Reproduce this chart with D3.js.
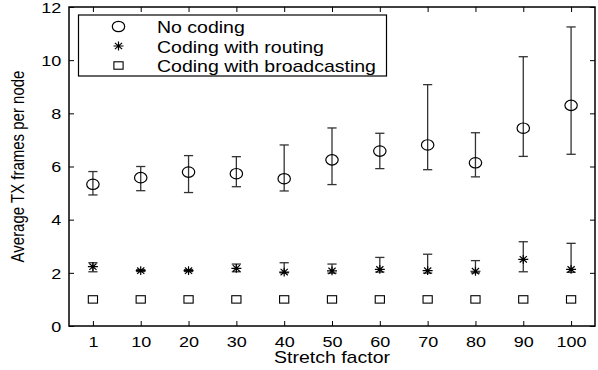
<!DOCTYPE html>
<html>
<head>
<meta charset="utf-8">
<script src="https://cdn.jsdelivr.net/npm/d3@7"></script>
<style>
  body { margin: 0; background: #fff; }
  text { font-family: "Liberation Sans", Arial, sans-serif; fill: #000; }
</style>
</head>
<body>
<svg id="chart" width="598" height="370"></svg>
<script>
// stretch factor categories
const categories = ["1", "10", "20", "30", "40", "50", "60", "70", "80", "90", "100"];

// no coding: mean and error bar ends
const noCoding     = [5.33, 5.58, 5.79, 5.73, 5.54, 6.25, 6.58, 6.81, 6.14, 7.44, 8.30];
const noCodingLow  = [4.93, 5.09, 5.02, 5.24, 5.08, 5.32, 5.92, 5.88, 5.61, 6.38, 6.46];
const noCodingHigh = [5.81, 6.00, 6.41, 6.37, 6.81, 7.45, 7.25, 9.08, 7.27, 10.13, 11.25];

// coding with routing
const routing     = [2.23, 2.08, 2.08, 2.17, 2.03, 2.07, 2.13, 2.08, 2.06, 2.51, 2.13];
const routingLow  = [2.04, 2.05, 2.05, 2.04, 2.00, 1.99, 2.03, 1.99, 2.00, 2.04, 2.02];
const routingHigh = [2.38, 2.12, 2.12, 2.33, 2.38, 2.33, 2.58, 2.70, 2.46, 3.17, 3.11];

// coding with broadcasting
const broadcast = [1, 1, 1, 1, 1, 1, 1, 1, 1, 1, 1];

const yTicks = [0, 2, 4, 6, 8, 10, 12];
const legendLabels = ["No coding", "Coding with routing", "Coding with broadcasting"];

const margin = { top: 7, left: 69, bottom: 44, right: 3 };
const W = 598, H = 370;
const sx = 1.2; // text in the picture is a bit wider than tall

const svg = d3.select("#chart");

const x = d3.scalePoint()
  .domain(categories)
  .range([margin.left, W - margin.right])
  .padding(0.5);
const y = d3.scaleLinear()
  .domain([0, 12])
  .range([H - margin.bottom, margin.top]);

// axes with inward ticks (matlab box)
const gx = svg.append("g")
  .attr("transform", `translate(0,${y(0)})`)
  .call(d3.axisBottom(x).tickSize(-5).tickPadding(10));
gx.selectAll("text").attr("font-size", 15).attr("transform", `scale(${sx},1)`);

const gy = svg.append("g")
  .attr("transform", `translate(${x.range()[0]},0)`)
  .call(d3.axisLeft(y).tickValues(yTicks).tickSize(-5));
gy.selectAll("text").attr("font-size", 15).attr("x", -6.5).attr("dy", "0.35em")
  .attr("transform", `scale(${sx},1)`);

svg.append("g")
  .attr("transform", `translate(0,${y(12)})`)
  .call(d3.axisTop(x).tickSize(-5).tickFormat(""));
svg.append("g")
  .attr("transform", `translate(${W - margin.right},0)`)
  .call(d3.axisRight(y).tickValues(yTicks).tickSize(-5).tickFormat(""));

svg.selectAll(".domain").remove();
svg.selectAll(".tick line").attr("stroke", "#000").attr("stroke-width", 1);

// box
svg.append("rect")
  .attr("x", margin.left).attr("y", y(12))
  .attr("width", W - margin.right - margin.left)
  .attr("height", y(0) - y(12))
  .attr("fill", "none").attr("stroke", "#000").attr("stroke-width", 1.5);

// axis titles
svg.append("text")
  .attr("transform", `translate(${(x.range()[0] + x.range()[1]) / 2},363) scale(1.22,1)`)
  .attr("text-anchor", "middle").attr("font-size", 16)
  .text("Stretch factor");
svg.append("text")
  .attr("transform", `translate(24,${(y(0) + y(12)) / 2 + 0}) scale(${sx},1) rotate(-90)`)
  .attr("text-anchor", "middle").attr("font-size", 15)
  .text("Average TX frames per node");

// error bars
function errorBars(lo, hi) {
  const g = svg.append("g").attr("stroke", "#333").attr("stroke-width", 1.3);
  categories.forEach((c, i) => {
    const cx = x(c);
    g.append("line").attr("x1", cx).attr("x2", cx).attr("y1", y(lo[i])).attr("y2", y(hi[i]));
    g.append("line").attr("x1", cx - 4.6).attr("x2", cx + 4.6).attr("y1", y(lo[i])).attr("y2", y(lo[i]));
    g.append("line").attr("x1", cx - 4.6).attr("x2", cx + 4.6).attr("y1", y(hi[i])).attr("y2", y(hi[i]));
  });
}
errorBars(noCodingLow, noCodingHigh);
errorBars(routingLow, routingHigh);

// markers
function circleMark(g, cx, cy) {
  g.append("ellipse").attr("cx", cx).attr("cy", cy).attr("rx", 6.2).attr("ry", 5.2)
    .attr("fill", "none").attr("stroke", "#000").attr("stroke-width", 1.2);
}
function starMark(g, cx, cy) {
  const rx = 5, ry = 4.4, d = 0.72;
  const p = `M${cx - rx},${cy}H${cx + rx}M${cx},${cy - ry}V${cy + ry}` +
    `M${cx - rx * d},${cy - ry * d}L${cx + rx * d},${cy + ry * d}` +
    `M${cx - rx * d},${cy + ry * d}L${cx + rx * d},${cy - ry * d}`;
  g.append("path").attr("d", p).attr("fill", "none").attr("stroke", "#000").attr("stroke-width", 1.2);
}
function squareMark(g, cx, cy) {
  g.append("rect").attr("x", cx - 4.6).attr("y", cy - 3.7).attr("width", 9.2).attr("height", 7.4)
    .attr("fill", "none").attr("stroke", "#000").attr("stroke-width", 1.1);
}

const marks = svg.append("g");
categories.forEach((c, i) => {
  circleMark(marks, x(c), y(noCoding[i]));
  starMark(marks, x(c), y(routing[i]));
  squareMark(marks, x(c), y(broadcast[i]));
});

// legend
const lg = svg.append("g");
lg.append("rect").attr("x", 78.5).attr("y", 15).attr("width", 308).attr("height", 61)
  .attr("fill", "#fff").attr("stroke", "#000").attr("stroke-width", 1.2);
const markFns = [circleMark, starMark, squareMark];
legendLabels.forEach((label, i) => {
  const cy = 26.5 + i * 19.5;
  markFns[i](lg, 118.5, cy);
  lg.append("text")
    .attr("transform", `translate(157,${cy + 6.5}) scale(1.22,1)`)
    .attr("font-size", 16)
    .text(label);
});
</script>
</body>
</html>
